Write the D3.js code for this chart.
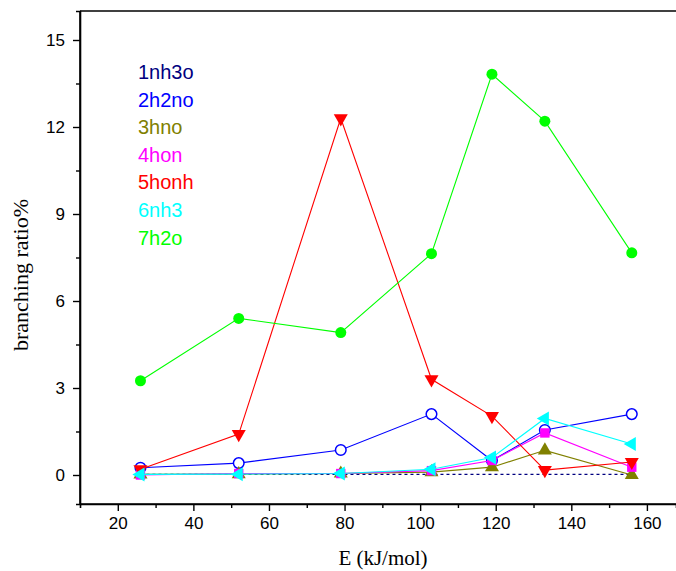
<!DOCTYPE html>
<html><head><meta charset="utf-8">
<script src="https://cdn.jsdelivr.net/npm/d3@7"></script>
<style>body{margin:0;background:#fff}svg{display:block}</style>
</head><body>
<script>
const energies = [26, 52, 79, 103, 119, 133, 156];
const names = ["1nh3o","2h2no","3hno","4hon","5honh","6nh3","7h2o"];
const colors = ["#000080","#0000ff","#808000","#ff00ff","#ff0000","#00ffff","#00ff00"];
const nh3o  = [0.02, 0.02, 0.02, 0.02, 0.02, 0.02, 0.02];
const h2no  = [0.25, 0.41, 0.86, 2.1, 0.5, 1.55, 2.1];
const hno   = [0.02, 0.03, 0.05, 0.1, 0.27, 0.85, 0.0];
const hon   = [0.0, 0.05, 0.05, 0.15, 0.5, 1.45, 0.27];
const honh  = [0.2, 1.41, 12.3, 3.3, 2.03, 0.17, 0.45];
const nh3   = [0.02, 0.03, 0.05, 0.2, 0.6, 1.95, 1.07];
const h2o   = [3.25, 5.4, 4.91, 7.63, 13.82, 12.2, 7.66];
const xTicks = [20, 40, 60, 80, 100, 120, 140, 160];
const yTicks = [0, 3, 6, 9, 12, 15];

const series = [
  {name:names[0], vals:nh3o, color:colors[0], marker:"none", dash:"3,3"},
  {name:names[1], vals:h2no, color:colors[1], marker:"ocircle"},
  {name:names[2], vals:hno,  color:colors[2], marker:"up"},
  {name:names[3], vals:hon,  color:colors[3], marker:"square"},
  {name:names[4], vals:honh, color:colors[4], marker:"down"},
  {name:names[5], vals:nh3,  color:colors[5], marker:"left"},
  {name:names[6], vals:h2o,  color:colors[6], marker:"circle"}
];

const W = 676, H = 571;
const svg = d3.select("body").append("svg").attr("width", W).attr("height", H);
const x = d3.scaleLinear().domain([10, 167.7]).range([80, 676]);
const y = d3.scaleLinear().domain([-1, 16]).range([504, 11]);

// frame
svg.append("line").attr("x1",80).attr("x2",676).attr("y1",11).attr("y2",11).attr("stroke","#000").attr("stroke-width",1.6);

// axes
const xAxis = d3.axisBottom(x).tickValues(xTicks).tickSize(7).tickPadding(6).tickFormat(d3.format("d"));
const gx = svg.append("g").attr("transform","translate(0,504)").call(xAxis);
const yAxis = d3.axisLeft(y).tickValues(yTicks).tickSize(7).tickPadding(8).tickFormat(d3.format("d"));
const gy = svg.append("g").attr("transform","translate(80,0)").call(yAxis);
// minor ticks
svg.append("g").attr("transform","translate(0,504)").call(d3.axisBottom(x).tickValues(d3.range(30,170,20)).tickSize(4).tickFormat(""));
svg.append("g").attr("transform","translate(80,0)").call(d3.axisLeft(y).tickValues([1.5,4.5,7.5,10.5,13.5]).tickSize(4).tickFormat(""));
svg.selectAll(".domain").attr("stroke","#000").attr("stroke-width",1.6);
svg.selectAll(".tick line").attr("stroke","#000").attr("stroke-width",1.4);
svg.selectAll(".tick text").attr("font-family","Liberation Sans, Arial, sans-serif").attr("font-size",17).attr("fill","#000");
gy.select(".domain").attr("d","M0,11V504");
gx.select(".domain").attr("d","M80,0H676");

// labels
svg.append("text").attr("x",383).attr("y",565).attr("text-anchor","middle")
  .attr("font-family","Liberation Serif, Times New Roman, serif").attr("font-size",21).text("E (kJ/mol)");
svg.append("text").attr("transform","translate(28,275) rotate(-90)").attr("text-anchor","middle")
  .attr("font-family","Liberation Serif, Times New Roman, serif").attr("font-size",22).text("branching ratio%");

// lines + markers
const line = d3.line().x((d,i)=>x(energies[i])).y(d=>y(d));
const tri = d3.symbol().type(d3.symbolTriangle).size(85);
series.forEach(s => {
  const g = svg.append("g");
  g.append("path").attr("d", line(s.vals)).attr("fill","none").attr("stroke",s.color)
    .attr("stroke-width",1.1).attr("stroke-dasharray", s.dash || null);
  if (s.marker === "none") return;
  s.vals.forEach((v,i) => {
    const cx = x(energies[i]), cy = y(v);
    if (s.marker === "circle") {
      g.append("circle").attr("cx",cx).attr("cy",cy).attr("r",5.5).attr("fill",s.color);
    } else if (s.marker === "ocircle") {
      g.append("circle").attr("cx",cx).attr("cy",cy).attr("r",5.3).attr("fill","#fff").attr("stroke",s.color).attr("stroke-width",1.5);
    } else if (s.marker === "square") {
      g.append("rect").attr("x",cx-4.7).attr("y",cy-4.7).attr("width",9.4).attr("height",9.4).attr("fill",s.color);
    } else {
      const rot = s.marker === "up" ? 0 : s.marker === "down" ? 180 : -90;
      g.append("path").attr("d", tri()).attr("transform",`translate(${cx},${cy}) rotate(${rot})`).attr("fill",s.color);
    }
  });
});

// legend
series.forEach((s,i) => {
  svg.append("text").attr("x",138).attr("y",79 + i*27.6)
    .attr("font-family","Liberation Sans, Arial, sans-serif").attr("font-size",20)
    .attr("fill",s.color).text(s.name);
});
</script>
</body></html>
